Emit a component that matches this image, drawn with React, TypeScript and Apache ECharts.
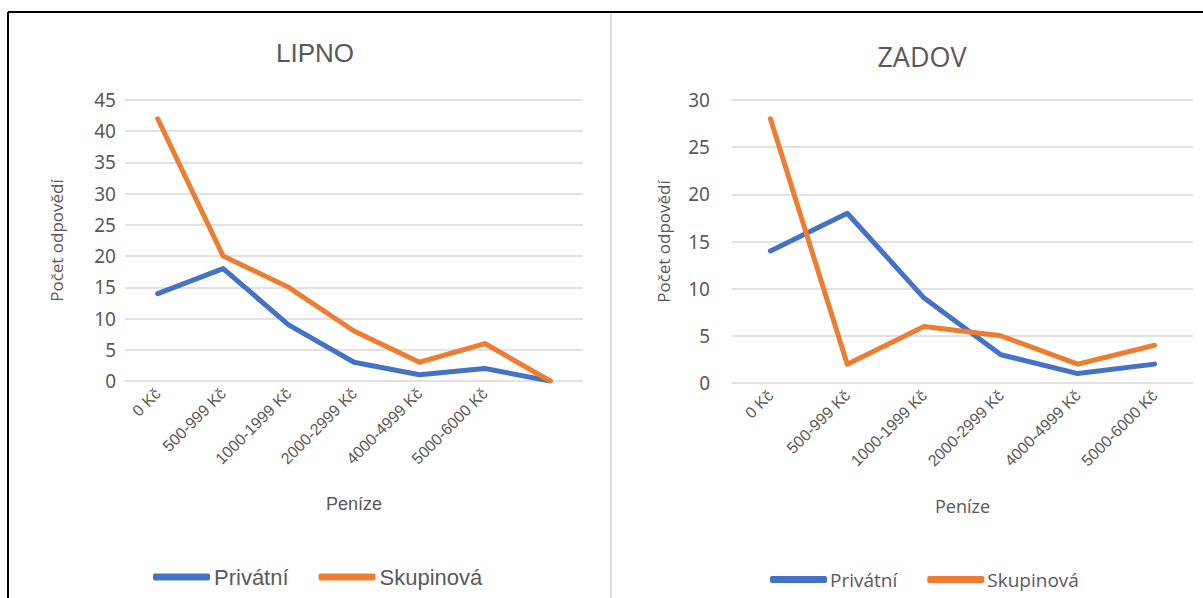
import React, { useEffect, useRef } from "react";
import * as echarts from "echarts";

const lipnoCategories = ["0 Kč", "500-999 Kč", "1000-1999 Kč", "2000-2999 Kč", "4000-4999 Kč", "5000-6000 Kč", ""];
const lipnoPrivatni = [14, 18, 9, 3, 1, 2, 0];
const lipnoSkupinova = [42, 20, 15, 8, 3, 6, 0];

const zadovCategories = ["0 Kč", "500-999 Kč", "1000-1999 Kč", "2000-2999 Kč", "4000-4999 Kč", "5000-6000 Kč"];
const zadovPrivatni = [14, 18, 9, 3, 1, 2];
const zadovSkupinova = [28, 2, 6, 5, 2, 4];

const seriesNames = ["Privátní", "Skupinová"];
const BLUE = "#4472C4";
const ORANGE = "#ED7D31";
const TEXT = "#595959";

export default function App() {
  const ref = useRef<HTMLDivElement>(null);
  useEffect(() => {
    if (!ref.current) return;
    const chart = echarts.init(ref.current, undefined, { renderer: "svg" });
    const xAxisBase = (data: string[], gridIndex: number, gap: number, font: string, labelMargin: number) => ({
      type: "category",
      gridIndex,
      data,
      boundaryGap: true,
      name: "Peníze",
      nameLocation: "middle",
      nameGap: gap,
      nameTextStyle: { color: TEXT, fontSize: 18, fontFamily: font },
      axisLine: { show: false },
      axisTick: { show: false },
      axisLabel: {
        rotate: 45,
        interval: 0,
        color: TEXT,
        fontSize: 16,
        fontFamily: "'Liberation Sans Narrow', 'Liberation Sans', Arial",
        margin: labelMargin,
      },
    });
    const yAxisBase = (max: number, gridIndex: number, gap: number, labelMargin: number) => ({
      type: "value",
      gridIndex,
      min: 0,
      max,
      interval: 5,
      name: "Počet odpovědí",
      nameLocation: "middle",
      nameGap: gap,
      nameTextStyle: { color: TEXT, fontSize: 17, fontFamily: "'Open Sans', 'Noto Sans'" },
      axisLine: { show: false },
      axisTick: { show: false },
      axisLabel: { color: TEXT, fontSize: 19, fontFamily: "'Noto Sans', 'Open Sans'", margin: labelMargin },
      splitLine: { lineStyle: { color: "#D9D9D9", width: 1.5 } },
    });
    const lineSeries = (name: string, data: number[], color: string, idx: number) => ({
      type: "line",
      name,
      data,
      xAxisIndex: idx,
      yAxisIndex: idx,
      symbol: "none",
      lineStyle: { color, width: 5, cap: "round", join: "round" },
      itemStyle: { color },
    });
    chart.setOption({
      animation: false,
      backgroundColor: "#ffffff",
      title: [
        {
          text: "LIPNO",
          left: 310,
          top: 35,
          textAlign: "center",
          textStyle: { color: TEXT, fontSize: 26, fontWeight: "normal", fontFamily: "'Liberation Sans', Arial" },
        },
        {
          text: "ZADOV",
          left: 917,
          top: 38,
          textAlign: "center",
          textStyle: { color: TEXT, fontSize: 27, fontWeight: "normal", fontFamily: "'Open Sans', 'Noto Sans'" },
        },
      ],
      legend: [
        {
          data: seriesNames,
          left: 148,
          top: 561,
          itemWidth: 57,
          itemHeight: 7,
          itemGap: 30,
          icon: "roundRect",
          textStyle: { color: TEXT, fontSize: 22, fontFamily: "'Liberation Sans', Arial", padding: [0, 0, 0, -1] },
        },
        {
          data: seriesNames,
          left: 765,
          top: 565,
          itemWidth: 57,
          itemHeight: 7,
          itemGap: 30,
          icon: "roundRect",
          textStyle: { color: TEXT, fontSize: 19, fontFamily: "'Open Sans', 'Noto Sans'", padding: [0, 0, 0, -2] },
        },
      ],
      grid: [
        { left: 125, right: 620, top: 100, bottom: 217 },
        { left: 732, right: 10, top: 100, bottom: 215 },
      ],
      xAxis: [
        xAxisBase(lipnoCategories, 0, 114, "'Liberation Sans', Arial", 10),
        xAxisBase(zadovCategories, 1, 114, "'Open Sans', 'Noto Sans'", 10),
      ],
      yAxis: [yAxisBase(45, 0, 60, 9), yAxisBase(30, 1, 60, 22)],
      series: [
        lineSeries("Privátní", lipnoPrivatni, BLUE, 0),
        lineSeries("Skupinová", lipnoSkupinova, ORANGE, 0),
        lineSeries("Privátní", zadovPrivatni, BLUE, 1),
        lineSeries("Skupinová", zadovSkupinova, ORANGE, 1),
      ],
      graphic: [
        { type: "line", shape: { x1: 8, y1: 12, x2: 1203, y2: 12 }, style: { stroke: "#000", lineWidth: 2 } },
        { type: "line", shape: { x1: 8, y1: 12, x2: 8, y2: 598 }, style: { stroke: "#000", lineWidth: 2 } },
        { type: "line", shape: { x1: 611, y1: 13, x2: 611, y2: 598 }, style: { stroke: "#DDDDDD", lineWidth: 2 } },
      ],
    });
    return () => chart.dispose();
  }, []);
  return (
    <div
      ref={ref}
      style={{ position: "absolute", left: 0, top: 0, width: 1203, height: 598 }}
    />
  );
}
